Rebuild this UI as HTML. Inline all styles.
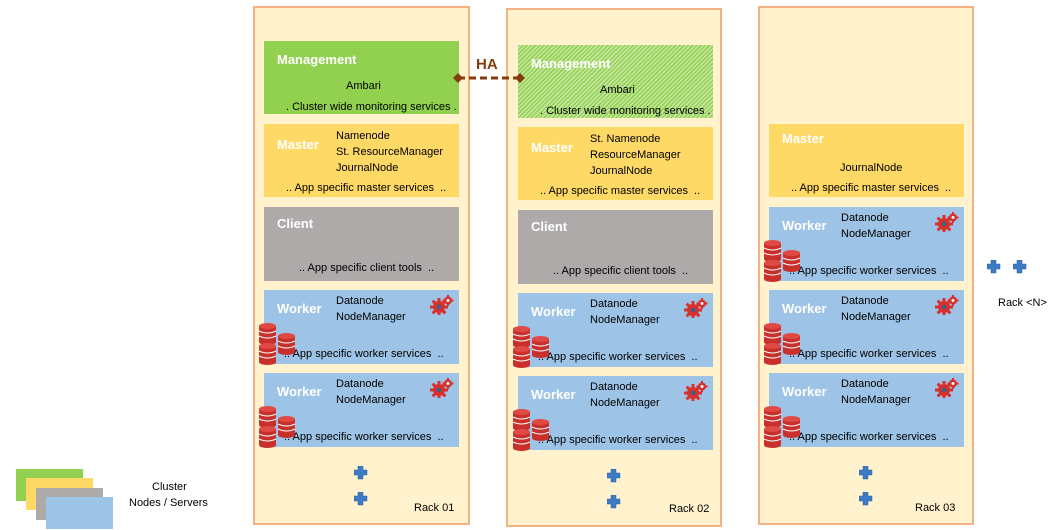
<!DOCTYPE html>
<html><head><meta charset="utf-8">
<style>
body{margin:0;width:1059px;height:530px;background:#fff;position:relative;overflow:hidden;font-family:"Liberation Sans",sans-serif;}
.a{position:absolute;box-sizing:border-box;}
.rack{background:#fff2cc;border:2px solid #f4b183;}
.box{font-size:11px;color:#000;}
.t{position:absolute;color:#fff;font-weight:bold;font-size:13px;}
.s{position:absolute;font-size:11px;line-height:16px;white-space:nowrap;}
.g{background:#92d050}.y{background:#ffd966}.c{background:#aeaaaa}.b{background:#9dc3e6}
.hatch{background:repeating-linear-gradient(135deg,#92d050 0 1.5px,#c6e7a3 1.5px 3px);}
</style></head><body>
<div id="root"></div>
<svg width="0" height="0" style="position:absolute">
<defs>
<g id="gear">
<circle cx="8" cy="10" r="6" fill="#d9302c"/>
<g fill="#d9302c"><rect x="6.5" y="1" width="3" height="18"/><rect x="-1" y="8.5" width="18" height="3"/>
<rect x="6.5" y="1" width="3" height="18" transform="rotate(45 8 10)"/><rect x="6.5" y="1" width="3" height="18" transform="rotate(-45 8 10)"/></g>
<circle cx="8" cy="10" r="2.3" fill="#3a5f8a"/>
<circle cx="17" cy="3.5" r="4" fill="#d9302c"/>
<g fill="#d9302c"><rect x="16" y="-2" width="2" height="11"/><rect x="11.5" y="2.5" width="11" height="2"/></g>
<circle cx="17" cy="3.5" r="1.5" fill="#fff"/>
</g>
<g id="db">
<rect x="0" y="2" width="17" height="16" fill="#c9302c"/>
<ellipse cx="8.5" cy="2" rx="8.5" ry="3" fill="#e04a45"/>
<ellipse cx="8.5" cy="18" rx="8.5" ry="3" fill="#c9302c"/>
<path d="M0 7 Q8.5 11 17 7 M0 12 Q8.5 16 17 12" stroke="#fff" stroke-width="1" fill="none"/>
</g>
<g id="plus"><path d="M4 0h5v4h4v5h-4v4h-5v-4h-4v-5h4z" fill="#3d7cc4" stroke="#2a5f9e" stroke-width="0.5"/></g>
</defs></svg>
<script>
var R=document.getElementById('root'),h='';
function d(x,y,w,hh,c,inner){h+='<div class="a '+c+'" style="left:'+x+'px;top:'+y+'px;width:'+w+'px;height:'+hh+'px">'+(inner||'')+'</div>';}
function s(x,y,t,st){return '<div class="s" style="left:'+x+'px;top:'+y+'px;'+(st||'')+'">'+t+'</div>';}
function svg(x,y,w,hh,use){h+='<svg class="a" style="left:'+x+'px;top:'+y+'px" width="'+w+'" height="'+hh+'">'+use+'</svg>';}
d(253,6,217,519,'rack');d(506,8,216,519,'rack');d(758,6,216,519,'rack');
function mgmt(x,y,cls){d(x,y,195,73,cls,'<div class="t" style="left:13px;top:11px">Management</div>'+s(82,37,'Ambari')+s(22,58,'. Cluster wide monitoring services .'));}
function master(x,y,lines,three){var inner='<div class="t" style="left:13px;top:'+(three?13:7)+'px">Master</div>';
 if(three)inner+=s(72,4,lines[0])+s(72,20,lines[1])+s(72,36,lines[2]);else inner+=s(71,36,lines[0]);
 inner+=s(22,56,'.. App specific master services &nbsp;..');d(x,y,195,73,'y',inner);}
function client(x,y){d(x,y,195,74,'c','<div class="t" style="left:13px;top:9px">Client</div>'+s(35,53,'.. App specific client tools &nbsp;..'));}
function worker(x,y){d(x,y,195,74,'b','<div class="t" style="left:13px;top:11px">Worker</div>'+s(72,3,'Datanode')+s(72,19,'NodeManager')+s(20,56,'.. App specific worker services &nbsp;..'));
 svg(x+166,y+3,25,22,'<use href="#gear" transform="translate(1,4)"/>');
 svg(x-6,y+32,42,44,'<use href="#db" transform="translate(1,2)"/><use href="#db" transform="translate(1,22)"/><use href="#db" transform="translate(20,12)"/>');}
mgmt(264,41,'g');master(264,124,['Namenode','St. ResourceManager','JournalNode'],1);client(264,207);worker(264,290);worker(264,373);
mgmt(518,45,'hatch');master(518,127,['St. Namenode','ResourceManager','JournalNode'],1);client(518,210);worker(518,293);worker(518,376);
master(769,124,['JournalNode'],0);worker(769,207);worker(769,290);worker(769,373);
// pluses
[[354,466],[354,492],[607,469],[607,495],[859,466],[859,492],[987,260],[1013,260]].forEach(function(p){svg(p[0],p[1],14,14,'<use href="#plus"/>');});
h+=s(414,500,'Rack 01')+s(669,501,'Rack 02')+s(915,500,'Rack 03')+s(998,295,'Rack &lt;N&gt;');
// HA
svg(452,68,74,20,'<line x1="6" y1="10" x2="68" y2="10" stroke="#843c0c" stroke-width="3" stroke-dasharray="7,4"/><path d="M1 10l5-5 5 5-5 5z M63 10l5-5 5 5-5 5z" fill="#843c0c"/>');
h+='<div class="a" style="left:476px;top:56px;font-weight:bold;font-size:15px;color:#843c0c">HA</div>';
// legend
d(16,469,67,32,'g');d(26,478,67,32,'y');d(36,488,67,32,'c');d(46,497,67,32,'b');
h+=s(152,479,'Cluster')+s(129,495,'Nodes / Servers');
R.innerHTML=h;
</script>
</body></html>
